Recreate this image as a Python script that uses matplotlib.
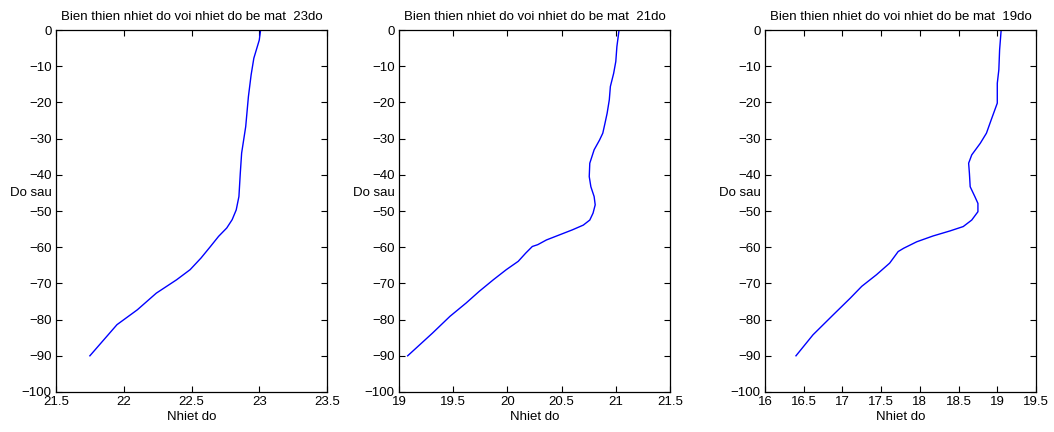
import matplotlib
matplotlib.use("Agg")
import matplotlib.pyplot as plt

# surface 23do
temp_23 = [23.01, 23.00, 22.96, 22.94, 22.92, 22.90, 22.87, 22.86, 22.85, 22.83,
           22.80, 22.76, 22.70, 22.64, 22.57, 22.49, 22.39, 22.24, 22.10, 21.95, 21.75]
depth_23 = [0, -2.8, -7.8, -12.4, -18.4, -26.7, -34, -39.6, -46, -49.7,
            -52.4, -54.7, -57, -59.8, -63, -66.2, -69, -72.7, -77.3, -81.4, -90]

# surface 21do
temp_21 = [21.03, 21.01, 21.00, 20.98, 20.95, 20.94, 20.92, 20.90, 20.88, 20.85,
           20.80, 20.76, 20.755, 20.77, 20.80, 20.81, 20.79, 20.76, 20.70,
           20.60, 20.48, 20.36, 20.28, 20.23, 20.17, 20.10, 19.99, 19.87, 19.74,
           19.62, 19.47, 19.31, 19.08]
depth_21 = [0, -4.6, -8.7, -12, -15.6, -19.3, -23, -25.8, -28.5, -30.4,
            -33.1, -36.8, -40.5, -43.3, -46, -48.3, -50.6, -52.5, -53.9,
            -55.2, -56.6, -58, -59.3, -59.8, -61.6, -63.9, -66.2, -69, -72.2,
            -75.4, -79.1, -83.7, -90]

# surface 19do
temp_19 = [19.05, 19.03, 19.02, 19.00, 19.00, 18.92, 18.86, 18.78, 18.67,
           18.63, 18.64, 18.65, 18.71, 18.75, 18.75, 18.67, 18.56, 18.39,
           18.17, 17.96, 17.79, 17.72, 17.61, 17.44, 17.25, 17.10, 16.88,
           16.62, 16.40]
depth_19 = [0, -5.5, -11, -14.7, -20.2, -24.9, -28.5, -31.3, -34.5,
            -36.8, -39.6, -43.3, -46, -47.9, -50.2, -52.5, -54.3, -55.5,
            -56.9, -58.5, -60.3, -61.2, -64.4, -67.6, -70.8, -74.1, -78.7,
            -84.2, -90]

surface_labels = ["23do", "21do", "19do"]
xlims = [(21.5, 23.5), (19, 21.5), (16, 19.5)]

plt.rcParams['font.family'] = ['Liberation Sans', 'DejaVu Sans']
FS = 9.5

fig = plt.figure(figsize=(10.54, 4.32), dpi=100)
lefts = [56 / 1054, 399 / 1054, 765 / 1054]

series = [(temp_23, depth_23), (temp_21, depth_21), (temp_19, depth_19)]
for i, (temps, depths) in enumerate(series):
    ax = fig.add_axes([lefts[i], 40 / 432, 271 / 1054, 362 / 432])
    ax.plot(temps, depths, color=(0, 0, 1), lw=1.0)
    lo, hi = xlims[i]
    ax.set_xlim(lo, hi)
    ax.set_ylim(-100, 0)
    xt = [lo + 0.5 * k for k in range(int(round((hi - lo) / 0.5)) + 1)]
    ax.set_xticks(xt)
    ax.set_xticklabels(["%g" % v for v in xt])
    ax.set_yticks(range(-100, 1, 10))
    ax.tick_params(direction='in', top=True, right=True, length=4,
                   labelsize=FS, width=0.8, pad=3)
    for s in ax.spines.values():
        s.set_linewidth(0.9)
    ax.set_title("Bien thien nhiet do voi nhiet do be mat  " + surface_labels[i],
                 fontsize=FS, pad=7)
    ax.set_xlabel("Nhiet do", fontsize=FS, labelpad=2)
    ax.set_ylabel("Do sau", fontsize=FS, rotation=0, ha='right', va='center')
    ax.yaxis.set_label_coords(-0.015, 0.55)

plt.savefig("out.png", dpi=100)
plt.close()
